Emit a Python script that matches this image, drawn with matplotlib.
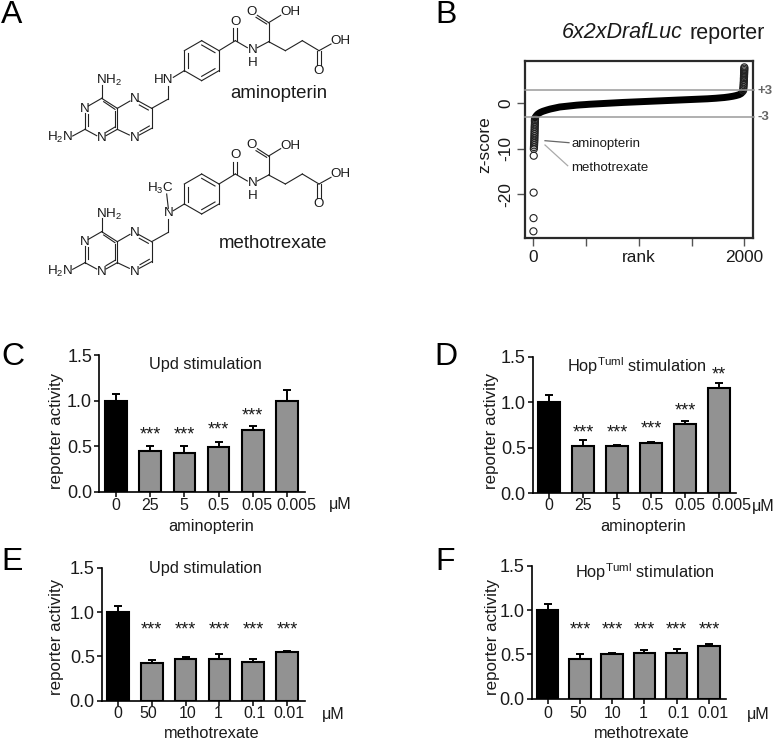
import numpy as np
import matplotlib
matplotlib.use("Agg")
import matplotlib.pyplot as plt

plt.rcParams['font.family'] = ['Liberation Sans', 'DejaVu Sans']
plt.rcParams['mathtext.default'] = 'regular'

W, H = 775, 740

# panel B values
band_rank = [16, 22, 30, 40, 55, 70, 90, 110, 130, 160, 190, 220, 250, 290, 330, 370, 410, 450, 490, 530,
             570, 610, 650, 690, 730, 770, 810, 850, 890, 930, 970, 1010, 1050, 1090, 1130, 1170, 1210,
             1250, 1290, 1330, 1370, 1410, 1450, 1490, 1530, 1570, 1610, 1650, 1690, 1730, 1770, 1810,
             1850, 1890, 1920, 1950, 1970, 1985]
band_z = [-3.2, -2.9, -2.65, -2.4, -2.15, -1.95, -1.75, -1.6, -1.45, -1.25, -1.1, -0.95, -0.8, -0.7, -0.6,
          -0.5, -0.4, -0.33, -0.27, -0.2, -0.15, -0.1, -0.05, 0.0, 0.05, 0.1, 0.15, 0.2, 0.24, 0.28, 0.32,
          0.36, 0.4, 0.44, 0.48, 0.52, 0.56, 0.6, 0.64, 0.68, 0.72, 0.76, 0.8, 0.84, 0.88, 0.92, 0.96, 1.0,
          1.06, 1.12, 1.2, 1.28, 1.4, 1.55, 1.7, 1.9, 2.15, 2.5]
low_rank = [1, 2, 3, 4, 5, 6, 7, 8, 9, 10, 10, 11, 11, 12, 12, 13, 13, 14, 15, 15, 15, 16]
low_z = [-28.1, -25.2, -19.6, -11.5, -10.0, -9.6, -9.2, -8.8, -8.4, -8.0, -7.6, -7.2, -6.8, -6.4, -6.0,
         -5.6, -5.2, -4.8, -4.4, -4.0, -3.7, -3.4]
high_rank = [1988, 1990, 1992, 1993, 1994, 1995, 1996, 1996, 1997, 1997, 1998, 1998, 1999, 1999, 2000, 2000]
high_z = [2.8, 3.2, 3.6, 4.0, 4.4, 4.8, 5.2, 5.5, 5.8, 6.1, 6.4, 6.7, 7.0, 7.3, 7.6, 7.9]

# bar panels
conc_amino = ['0', '25', '5', '0.5', '0.05', '0.005']
conc_metho = ['0', '50', '10', '1', '0.1', '0.01']

upd_amino = [1.0, 0.45, 0.43, 0.49, 0.68, 0.99]
upd_amino_err = [0.075, 0.055, 0.07, 0.055, 0.045, 0.125]
upd_amino_stars = ['', '***', '***', '***', '***', '']
upd_amino_star_y = [0, 0.656, 0.656, 0.71, 0.865, 0]

hop_amino = [1.0, 0.52, 0.52, 0.55, 0.76, 1.16]
hop_amino_err = [0.08, 0.07, 0.012, 0.012, 0.03, 0.05]
hop_amino_stars = ['', '***', '***', '***', '***', '**']
hop_amino_star_y = [0, 0.70, 0.70, 0.74, 0.94, 1.33]

upd_metho = [1.0, 0.43, 0.47, 0.47, 0.44, 0.55]
upd_metho_err = [0.07, 0.03, 0.02, 0.055, 0.03, 0.012]
upd_metho_stars = ['', '***', '***', '***', '***', '***']
upd_metho_star_y = [0, 0.83, 0.83, 0.83, 0.83, 0.83]

hop_metho = [1.0, 0.45, 0.50, 0.52, 0.52, 0.59]
hop_metho_err = [0.07, 0.05, 0.02, 0.03, 0.04, 0.03]
hop_metho_stars = ['', '***', '***', '***', '***', '***']
hop_metho_star_y = [0, 0.81, 0.81, 0.81, 0.81, 0.81]


def axes_px(fig, left, top, right, bottom):
    return fig.add_axes([left / W, 1 - bottom / H, (right - left) / W, (bottom - top) / H])


fig = plt.figure(figsize=(W / 100, H / 100), dpi=100)

page = fig.add_axes([0, 0, 1, 1], zorder=5)
page.set_xlim(0, W)
page.set_ylim(H, 0)
page.axis('off')
page.patch.set_alpha(0)


def ptext(x, y, s, size=11, ha='center', **kw):
    page.text(x, y, s, fontsize=size, ha=ha, va='center', color=kw.pop('color', '#1a1a1a'), **kw)


# structures, in 3x crop coordinates
rings = [
    (305, 255, 305, 295), (305, 295, 265, 318), (255, 338, 255, 388), (263, 342, 263, 378),
    (255, 388, 290, 407), (318, 407, 352, 388), (318, 397, 345, 381), (352, 388, 352, 325),
    (344, 380, 344, 333), (352, 325, 305, 295), (345, 328, 311, 305), (352, 325, 390, 303),
    (415, 303, 455, 325), (418, 315, 445, 330), (455, 325, 455, 385), (455, 385, 418, 405),
    (448, 378, 420, 394), (388, 405, 352, 388), (218, 408, 255, 388), (455, 325, 505, 297),
    (505, 297, 505, 258), (520, 232, 553, 212), (553, 212, 553, 152), (553, 152, 605, 122),
    (605, 122, 657, 152), (657, 152, 657, 212), (657, 212, 605, 242), (605, 242, 553, 212),
    (565, 160, 565, 205), (605, 135, 645, 158), (605, 229, 645, 206), (657, 152, 706, 122),
    (700, 122, 700, 85), (712, 122, 712, 85), (706, 122, 742, 143), (772, 143, 806, 125),
    (806, 125, 806, 68), (806, 68, 772, 46), (800, 72, 768, 52), (806, 68, 842, 46),
    (806, 125, 856, 152), (856, 152, 907, 122), (907, 122, 957, 152), (951, 152, 951, 195),
    (963, 152, 963, 195), (957, 152, 993, 132),
]
atoms = [
    (326, 242, 'NH$_2$'), (255, 327, 'N'), (180, 413, 'H$_2$N'), (305, 415, 'N'), (403, 298, 'N'),
    (403, 415, 'N'), (706, 66, 'O'), (755, 35, 'O'), (870, 37, 'OH'), (757, 150, 'N'), (757, 189, 'H'),
    (1022, 122, 'OH'), (957, 212, 'O'),
]


def molecule(dy, amine):
    for x0, y0, x1, y1 in rings:
        page.plot([x0 / 3, x1 / 3], [(y0 + dy) / 3, (y1 + dy) / 3], color='#222222', lw=0.8)
    for x, y, s in atoms + amine:
        ptext(x / 3, (y + dy) / 3, s, size=9.6)


molecule(0, [(490, 240, 'HN')])
molecule(400, [(505, 240, 'N'), (482, 165, 'H$_3$C')])
page.plot([505 / 3, 500 / 3], [625 / 3, 582 / 3], color='#222222', lw=0.8)
ptext(279, 93, 'aminopterin', size=13.4)
ptext(273, 244, 'methotrexate', size=13.4)

# panel letters
for x, y, s in [(12, 15, 'A'), (446, 15, 'B'), (13, 357, 'C'), (446, 357, 'D'), (12, 562, 'E'), (445, 562, 'F')]:
    ptext(x, y, s, size=23, color='black')

# panel B
ax = axes_px(fig, 525.3, 61, 753.3, 237.7)
ax.set_xlim(-76, 2085)
ax.set_ylim(-29.5, 9.3)
ax.plot(band_rank, band_z, color='black', lw=5, solid_capstyle='round', zorder=2)
ax.scatter(low_rank + high_rank, low_z + high_z, s=26, facecolors='none', edgecolors='#222222', linewidths=0.8, zorder=2)
for z in [3, -3]:
    ax.plot([-76, 2095], [z, z], color='#9a9a9a', lw=1.1, clip_on=False, zorder=3)
ax.set_xticks([0, 500, 1000, 1500, 2000], ['0', '', 'rank', '', '2000'], fontsize=12.4, color='#1a1a1a')
ax.set_yticks([0, -10, -20], ['0', '-10', '-20'], rotation=90, va='center', fontsize=12.4, color='#1a1a1a')
ax.tick_params(length=6, width=1.0, color='#555555', pad=2.5)
for s in ax.spines.values():
    s.set_linewidth(1.6)
    s.set_color('#2a2a2a')
ptext(485, 145, 'z-score', size=12.4, rotation=90)
ptext(561.7, 33, '6x2xDrafLuc', size=15.5, ha='left', style='italic')
ptext(689.3, 33, 'reporter', size=15.5, ha='left')
ptext(571, 144, 'aminopterin', size=9.5, ha='left')
ptext(571, 168, 'methotrexate', size=9.5, ha='left')
page.plot([545, 569], [140.7, 142.7], color='#666666', lw=0.9)
page.plot([545, 567.7], [145, 165.7], color='#aaaaaa', lw=0.9)
ptext(757.5, 91, '+3', size=9.5, ha='left', color='#666666', weight='bold')
ptext(757.5, 117, '-3', size=9.5, ha='left', color='#666666', weight='bold')


def bars(box, centers, values, errs, stars, star_y, labels, label_x, label_y, ylabel_x, ylabel_y):
    left, top, right, bottom = box
    step = (centers[-1] - centers[0]) / 5
    ax = axes_px(fig, left, top, right, bottom)
    ax.set_xlim((left - centers[0]) / step, (right - centers[0]) / step)
    ax.set_ylim(0, 1.5)
    x = np.arange(len(values))
    colors = ['black'] + ['#929292'] * (len(values) - 1)
    ax.bar(x, values, width=21.5 / step, color=colors, edgecolor='black', linewidth=1.5,
           yerr=[[0] * len(values), errs], error_kw=dict(ecolor='black', elinewidth=1.4, capsize=2.6, capthick=1.4))
    for i, s in enumerate(stars):
        if s:
            ax.annotate(s, (i, star_y[i]), xytext=(0, -2.2), textcoords='offset points', fontsize=13,
                        ha='center', va='center', color='#1a1a1a')
    ax.spines['top'].set_visible(False)
    ax.spines['right'].set_visible(False)
    ax.spines['left'].set_linewidth(1.2)
    ax.spines['bottom'].set_linewidth(1.2)
    ax.set_xticks(x, [''] * len(x))
    ax.set_yticks([0, 0.5, 1.0, 1.5], ['0.0', '0.5', '1.0', '1.5'], fontsize=13, color='#1a1a1a')
    ax.tick_params(length=3.5, width=1.1, pad=1.5)
    for lx, s in zip(label_x, labels):
        ptext(lx, label_y, s, size=11.5)
    ptext(ylabel_x, ylabel_y, 'reporter activity', size=12.2, rotation=90)


bars((99, 355, 305, 491.7), [116, 150, 184, 218, 252, 287], upd_amino, upd_amino_err, upd_amino_stars,
     upd_amino_star_y, conc_amino, [116, 150, 184, 218, 257, 296], 505.7, 56, 430.7)
bars((532.7, 357, 736, 493), [549, 583, 617, 652, 685, 719], hop_amino, hop_amino_err, hop_amino_stars,
     hop_amino_star_y, conc_amino, [549, 583, 616, 652, 690, 731], 506, 491.7, 431)
bars((101.7, 568, 305, 700.7), [118, 152, 186, 220, 254, 287], upd_metho, upd_metho_err, upd_metho_stars,
     upd_metho_star_y, conc_metho, [118, 148, 188, 218, 254, 289], 714, 56, 637)
bars((531.7, 565.7, 726, 698.7), [547.7, 580, 612, 644, 677, 709], hop_metho, hop_metho_err, hop_metho_stars,
     hop_metho_star_y, conc_metho, [548, 578, 613, 643, 679, 713], 714, 492, 637)

ptext(205, 364, 'Upd stimulation', size=11.8)
ptext(637, 366, 'Hop$^{Tuml}$ stimulation', size=11.8)
ptext(205, 568, 'Upd stimulation', size=11.8)
ptext(645, 572, 'Hop$^{Tuml}$ stimulation', size=11.8)
ptext(211, 526, 'aminopterin', size=11.8)
ptext(643, 526, 'aminopterin', size=11.8)
ptext(212, 733, 'methotrexate', size=11.8)
ptext(642, 733, 'methotrexate', size=11.8)
ptext(340, 504, 'μM', size=11.5)
ptext(763, 506, 'μM', size=11.5)
ptext(333, 714, 'μM', size=11.5)
ptext(758, 714, 'μM', size=11.5)

plt.savefig("out.png", dpi=100)
